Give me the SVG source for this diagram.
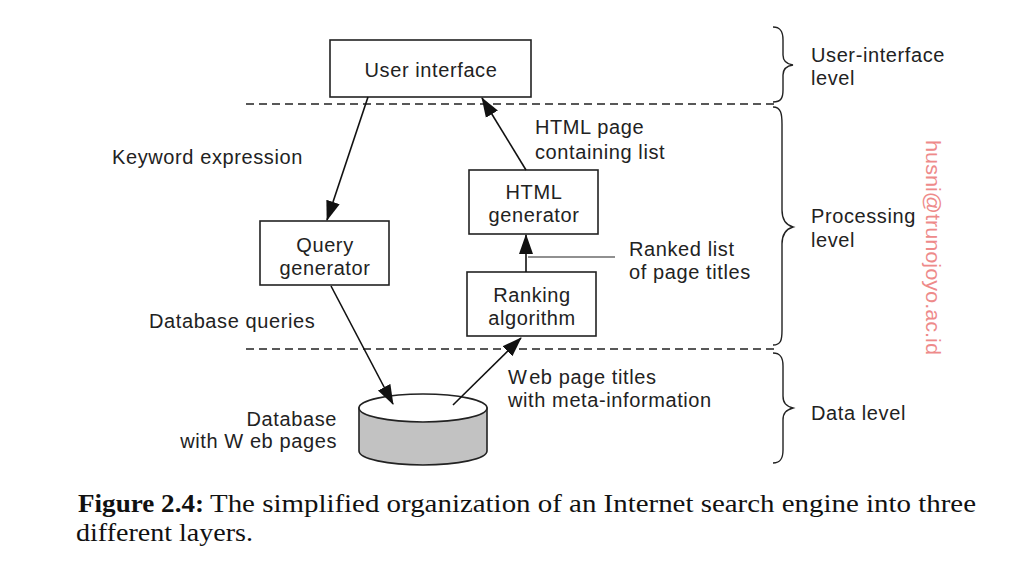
<svg xmlns="http://www.w3.org/2000/svg" width="1024" height="570" viewBox="0 0 1024 570">
<style>
.box{fill:#fff;stroke:#222;stroke-width:1.6}
.t{font-family:"Liberation Sans",Arial,sans-serif;font-size:20px;letter-spacing:0.6px;fill:#222}
.c{text-anchor:middle}
.r{text-anchor:end}
.dash{stroke:#222;stroke-width:1.4;stroke-dasharray:8 5;fill:none}
.brace{stroke:#222;stroke-width:1.4;fill:none}
.arr{stroke:#111;stroke-width:1.6;fill:none;marker-end:url(#ah)}
.cap{font-family:"Liberation Serif","Times New Roman",serif;font-size:25px;fill:#111}
</style>
<defs>
<marker id="ah" markerUnits="userSpaceOnUse" markerWidth="20" markerHeight="16" viewBox="0 0 20 16" refX="19" refY="8" orient="auto">
<path d="M0,1 L20,8 L0,15 Z" fill="#111"/>
</marker>
</defs>
<rect width="1024" height="570" fill="#fff"/>

<g id="layers">
<line class="dash" x1="246" y1="104" x2="776" y2="104"/>
<line class="dash" x1="246" y1="349" x2="776" y2="349"/>
<path class="brace" d="M773,27 C781,27 783,32 783,40 L783,55 C783,61 786,64 793,65 C786,66 783,69 783,75 L783,90 C783,98 781,102 773,102"/>
<path class="brace" d="M773,107 C781,107 782,114 782,124 L782,210 C782,220 786,225 793,227 C786,229 782,234 782,244 L782,330 C782,340 781,345 773,345"/>
<path class="brace" d="M773,353 C781,353 783,358 783,366 L783,396 C783,403 786,406 793,408 C786,410 783,413 783,420 L783,450 C783,458 781,463 773,463"/>
<text class="t" x="811" y="62">User-interface</text>
<text class="t" x="811" y="85">level</text>
<text class="t" x="811" y="223">Processing</text>
<text class="t" x="811" y="247">level</text>
<text class="t" x="811" y="420">Data level</text>
</g>

<g id="user-interface">
<rect class="box" x="330" y="40" width="201" height="57"/>
<text class="t c" x="431" y="77">User interface</text>
</g>

<g id="query-generator">
<rect class="box" x="260" y="221" width="129" height="64"/>
<text class="t c" x="325" y="252">Query</text>
<text class="t c" x="325" y="275">generator</text>
</g>

<g id="html-generator">
<rect class="box" x="469" y="170" width="129" height="64"/>
<text class="t c" x="534" y="199">HTML</text>
<text class="t c" x="534" y="222">generator</text>
</g>

<g id="ranking-algorithm">
<rect class="box" x="467" y="272" width="129" height="64"/>
<text class="t c" x="532" y="302">Ranking</text>
<text class="t c" x="532" y="325">algorithm</text>
</g>

<g id="database">
<path d="M359,408 L359,451 A64,14 0 0 0 487,451 L487,408 Z" fill="#c2c2c2" stroke="#222" stroke-width="1.6"/>
<ellipse cx="423" cy="408" rx="64" ry="14" fill="#fff" stroke="#222" stroke-width="1.6"/>
<text class="t r" x="337" y="426">Database</text>
<text class="t r" x="337" y="448">with W eb pages</text>
</g>

<g id="connectors">
<line class="arr" x1="368" y1="97" x2="327" y2="220"/>
<line class="arr" x1="526" y1="170" x2="482" y2="98"/>
<line class="arr" x1="526" y1="272" x2="526" y2="235"/>
<line class="arr" x1="331" y1="286" x2="393" y2="404"/>
<line class="arr" x1="453" y1="405" x2="521" y2="338"/>
<line stroke="#222" stroke-width="1.2" x1="528" y1="257" x2="615" y2="257"/>
<text class="t" x="112" y="164">Keyword expression</text>
<text class="t" x="535" y="134">HTML page</text>
<text class="t" x="535" y="159">containing list</text>
<text class="t" x="629" y="256">Ranked list</text>
<text class="t" x="629" y="279">of page titles</text>
<text class="t" x="149" y="328">Database queries</text>
<text class="t" x="508" y="384">W<tspan dx="2">eb page titles</tspan></text>
<text class="t" x="508" y="407">with meta-information</text>
</g>

<text x="926" y="140" transform="rotate(90 926 140)" font-family="'Liberation Sans',Arial,sans-serif" font-size="21" fill="#ee8a8a" textLength="215" lengthAdjust="spacingAndGlyphs">husni@trunojoyo.ac.id</text>

<g id="caption">
<text class="cap" x="78" y="512" font-weight="bold" textLength="126" lengthAdjust="spacingAndGlyphs">Figure 2.4:</text>
<text class="cap" x="210" y="512" textLength="766" lengthAdjust="spacingAndGlyphs">The simplified organization of an Internet search engine into three</text>
<text class="cap" x="76" y="541" textLength="177" lengthAdjust="spacingAndGlyphs">different layers.</text>
</g>
</svg>
